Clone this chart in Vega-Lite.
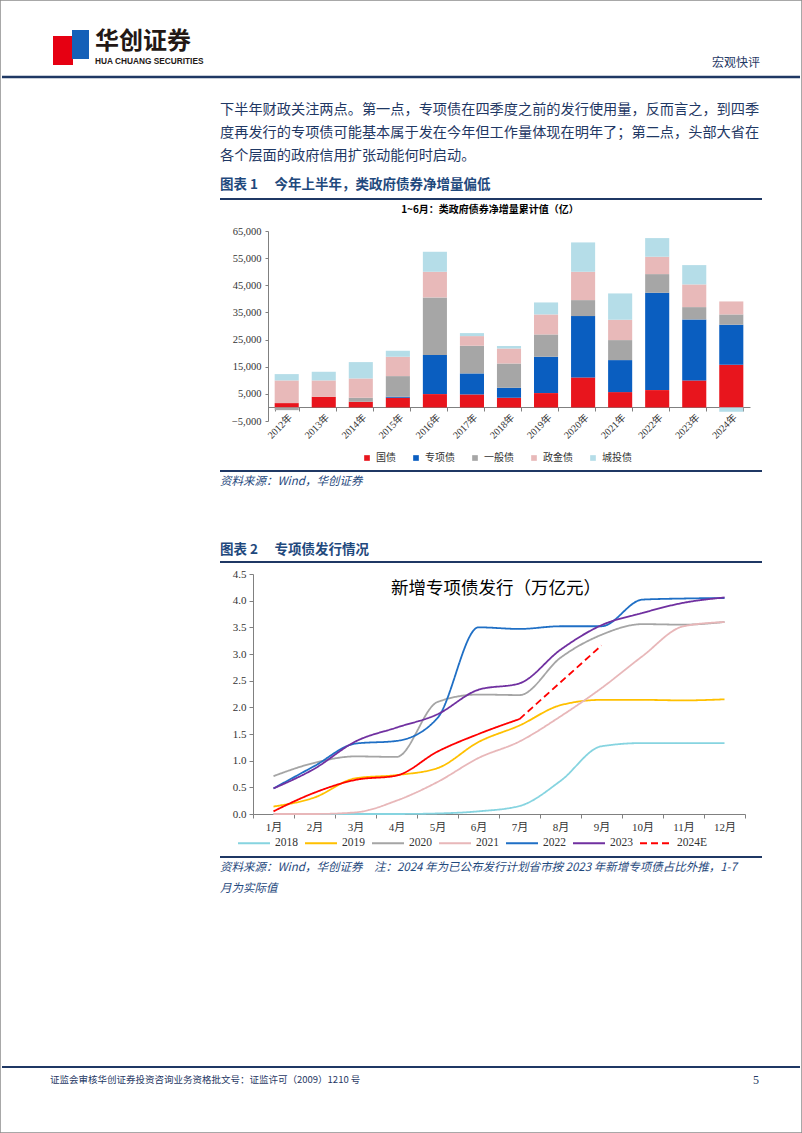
{
  "$schema": "https://vega.github.io/schema/vega-lite/v6.json",
  "width": 802,
  "height": 1133,
  "autosize": {"type": "none"},
  "padding": 0,
  "background": "white",
  "config": {"view": {"stroke": "#8c8c8c", "strokeWidth": 1.5}, "font": "Noto Sans CJK SC"},
  "resolve": {
    "scale": {"x": "independent", "y": "independent", "color": "independent", "strokeDash": "independent", "strokeWidth": "independent"},
    "axis": {"x": "independent", "y": "independent"},
    "legend": {"color": "independent", "strokeDash": "independent", "strokeWidth": "independent"}
  },
  "layer": [
    {
      "data": {"values": [
        {"year": "2012年", "type": "国债", "k": 1, "v": 1600},
        {"year": "2012年", "type": "一般债", "k": 3, "v": -1000},
        {"year": "2012年", "type": "政金债", "k": 4, "v": 8350},
        {"year": "2012年", "type": "城投债", "k": 5, "v": 2330},
        {"year": "2013年", "type": "国债", "k": 1, "v": 3930},
        {"year": "2013年", "type": "政金债", "k": 4, "v": 6020},
        {"year": "2013年", "type": "城投债", "k": 5, "v": 3190},
        {"year": "2014年", "type": "国债", "k": 1, "v": 2090},
        {"year": "2014年", "type": "一般债", "k": 3, "v": 1470},
        {"year": "2014年", "type": "政金债", "k": 4, "v": 7120},
        {"year": "2014年", "type": "城投债", "k": 5, "v": 6020},
        {"year": "2015年", "type": "国债", "k": 1, "v": 3560},
        {"year": "2015年", "type": "专项债", "k": 2, "v": 370},
        {"year": "2015年", "type": "一般债", "k": 3, "v": 7610},
        {"year": "2015年", "type": "政金债", "k": 4, "v": 7130},
        {"year": "2015年", "type": "城投债", "k": 5, "v": 2210},
        {"year": "2016年", "type": "国债", "k": 1, "v": 4910},
        {"year": "2016年", "type": "专项债", "k": 2, "v": 14370},
        {"year": "2016年", "type": "一般债", "k": 3, "v": 21250},
        {"year": "2016年", "type": "政金债", "k": 4, "v": 9450},
        {"year": "2016年", "type": "城投债", "k": 5, "v": 7370},
        {"year": "2017年", "type": "国债", "k": 1, "v": 4790},
        {"year": "2017年", "type": "专项债", "k": 2, "v": 7740},
        {"year": "2017年", "type": "一般债", "k": 3, "v": 10190},
        {"year": "2017年", "type": "政金债", "k": 4, "v": 3560},
        {"year": "2017年", "type": "城投债", "k": 5, "v": 1110},
        {"year": "2018年", "type": "国债", "k": 1, "v": 3560},
        {"year": "2018年", "type": "专项债", "k": 2, "v": 3690},
        {"year": "2018年", "type": "一般债", "k": 3, "v": 8960},
        {"year": "2018年", "type": "政金债", "k": 4, "v": 5530},
        {"year": "2018年", "type": "城投债", "k": 5, "v": 860},
        {"year": "2019年", "type": "国债", "k": 1, "v": 5280},
        {"year": "2019年", "type": "专项债", "k": 2, "v": 13390},
        {"year": "2019年", "type": "一般债", "k": 3, "v": 8220},
        {"year": "2019年", "type": "政金债", "k": 4, "v": 7370},
        {"year": "2019年", "type": "城投债", "k": 5, "v": 4420},
        {"year": "2020年", "type": "国债", "k": 1, "v": 11050},
        {"year": "2020年", "type": "专项债", "k": 2, "v": 22600},
        {"year": "2020年", "type": "一般债", "k": 3, "v": 5890},
        {"year": "2020年", "type": "政金债", "k": 4, "v": 10440},
        {"year": "2020年", "type": "城投债", "k": 5, "v": 10810},
        {"year": "2021年", "type": "国债", "k": 1, "v": 5650},
        {"year": "2021年", "type": "专项债", "k": 2, "v": 11790},
        {"year": "2021年", "type": "一般债", "k": 3, "v": 7370},
        {"year": "2021年", "type": "政金债", "k": 4, "v": 7490},
        {"year": "2021年", "type": "城投债", "k": 5, "v": 9700},
        {"year": "2022年", "type": "国债", "k": 1, "v": 6390},
        {"year": "2022年", "type": "专项债", "k": 2, "v": 35850},
        {"year": "2022年", "type": "一般债", "k": 3, "v": 6880},
        {"year": "2022年", "type": "政金债", "k": 4, "v": 6390},
        {"year": "2022年", "type": "城投债", "k": 5, "v": 6880},
        {"year": "2023年", "type": "国债", "k": 1, "v": 9950},
        {"year": "2023年", "type": "专项债", "k": 2, "v": 22470},
        {"year": "2023年", "type": "一般债", "k": 3, "v": 4540},
        {"year": "2023年", "type": "政金债", "k": 4, "v": 8360},
        {"year": "2023年", "type": "城投债", "k": 5, "v": 7120},
        {"year": "2024年", "type": "国债", "k": 1, "v": 15720},
        {"year": "2024年", "type": "专项债", "k": 2, "v": 14740},
        {"year": "2024年", "type": "一般债", "k": 3, "v": 3800},
        {"year": "2024年", "type": "政金债", "k": 4, "v": 4790},
        {"year": "2024年", "type": "城投债", "k": 5, "v": -1600}
      ]},
      "mark": {"type": "bar"},
      "encoding": {
        "x": {
          "field": "year", "type": "nominal",
          "scale": {"domain": ["2012年","2013年","2014年","2015年","2016年","2017年","2018年","2019年","2020年","2021年","2022年","2023年","2024年"], "range": [268, 750], "paddingInner": 0.35, "paddingOuter": 0.18},
          "axis": {"title": null, "orient": "bottom", "offset": -726, "labelAngle": -45, "labelFont": "Liberation Serif, Noto Sans CJK SC", "labelFontSize": 10, "labelColor": "#333333", "tickBand": "extent", "tickSize": 4, "domainColor": "#808080", "tickColor": "#808080", "labelPadding": 1, "grid": false}
        },
        "y": {
          "field": "v", "type": "quantitative", "stack": "zero",
          "scale": {"domain": [-5000, 65000], "range": [421, 231], "nice": false, "zero": false},
          "axis": {"title": null, "orient": "left", "offset": -268, "values": [-5000, 5000, 15000, 25000, 35000, 45000, 55000, 65000], "format": ",.0f", "labelFont": "Liberation Serif", "labelFontSize": 10.5, "labelColor": "#333333", "tickSize": 3, "labelPadding": 4, "domainColor": "#808080", "tickColor": "#808080", "grid": false}
        },
        "color": {
          "field": "type", "type": "nominal",
          "scale": {"domain": ["国债", "专项债", "一般债", "政金债", "城投债"], "range": ["#E8151D", "#0A5EC0", "#A6A6A6", "#E8B9B9", "#B5DDE8"]},
          "legend": {"title": null, "orient": "none", "legendX": 362, "legendY": 453, "direction": "horizontal", "symbolType": "square", "symbolSize": 32, "labelFont": "Noto Sans CJK SC", "labelFontSize": 10, "labelColor": "#333333", "columnPadding": 15, "labelOffset": 4}
        },
        "order": {"field": "k", "type": "quantitative", "sort": "ascending"}
      }
    },
    {
      "data": {"values": [
        {"s": "2018", "m": "1月", "v": 0}, {"s": "2018", "m": "2月", "v": 0}, {"s": "2018", "m": "3月", "v": 0}, {"s": "2018", "m": "4月", "v": 0},
        {"s": "2018", "m": "5月", "v": 0.01}, {"s": "2018", "m": "6月", "v": 0.05}, {"s": "2018", "m": "7月", "v": 0.15}, {"s": "2018", "m": "8月", "v": 0.62},
        {"s": "2018", "m": "9月", "v": 1.27}, {"s": "2018", "m": "10月", "v": 1.33}, {"s": "2018", "m": "11月", "v": 1.33}, {"s": "2018", "m": "12月", "v": 1.33},
        {"s": "2019", "m": "1月", "v": 0.14}, {"s": "2019", "m": "2月", "v": 0.31}, {"s": "2019", "m": "3月", "v": 0.67}, {"s": "2019", "m": "4月", "v": 0.73},
        {"s": "2019", "m": "5月", "v": 0.86}, {"s": "2019", "m": "6月", "v": 1.35}, {"s": "2019", "m": "7月", "v": 1.66}, {"s": "2019", "m": "8月", "v": 2.04},
        {"s": "2019", "m": "9月", "v": 2.14}, {"s": "2019", "m": "10月", "v": 2.14}, {"s": "2019", "m": "11月", "v": 2.13}, {"s": "2019", "m": "12月", "v": 2.15},
        {"s": "2020", "m": "1月", "v": 0.71}, {"s": "2020", "m": "2月", "v": 0.96}, {"s": "2020", "m": "3月", "v": 1.08}, {"s": "2020", "m": "4月", "v": 1.07},
        {"s": "2020", "m": "5月", "v": 2.1}, {"s": "2020", "m": "6月", "v": 2.24}, {"s": "2020", "m": "7月", "v": 2.23}, {"s": "2020", "m": "8月", "v": 2.93},
        {"s": "2020", "m": "9月", "v": 3.36}, {"s": "2020", "m": "10月", "v": 3.56}, {"s": "2020", "m": "11月", "v": 3.55}, {"s": "2020", "m": "12月", "v": 3.6},
        {"s": "2021", "m": "1月", "v": 0}, {"s": "2021", "m": "2月", "v": 0}, {"s": "2021", "m": "3月", "v": 0.03}, {"s": "2021", "m": "4月", "v": 0.25},
        {"s": "2021", "m": "5月", "v": 0.6}, {"s": "2021", "m": "6月", "v": 1.05}, {"s": "2021", "m": "7月", "v": 1.36}, {"s": "2021", "m": "8月", "v": 1.83},
        {"s": "2021", "m": "9月", "v": 2.36}, {"s": "2021", "m": "10月", "v": 2.96}, {"s": "2021", "m": "11月", "v": 3.52}, {"s": "2021", "m": "12月", "v": 3.6},
        {"s": "2022", "m": "1月", "v": 0.48}, {"s": "2022", "m": "2月", "v": 0.9}, {"s": "2022", "m": "3月", "v": 1.32}, {"s": "2022", "m": "4月", "v": 1.37},
        {"s": "2022", "m": "5月", "v": 1.8}, {"s": "2022", "m": "6月", "v": 3.5}, {"s": "2022", "m": "7月", "v": 3.47}, {"s": "2022", "m": "8月", "v": 3.52},
        {"s": "2022", "m": "9月", "v": 3.52}, {"s": "2022", "m": "10月", "v": 4.02}, {"s": "2022", "m": "11月", "v": 4.04}, {"s": "2022", "m": "12月", "v": 4.05},
        {"s": "2023", "m": "1月", "v": 0.48}, {"s": "2023", "m": "2月", "v": 0.85}, {"s": "2023", "m": "3月", "v": 1.36}, {"s": "2023", "m": "4月", "v": 1.62},
        {"s": "2023", "m": "5月", "v": 1.87}, {"s": "2023", "m": "6月", "v": 2.33}, {"s": "2023", "m": "7月", "v": 2.45}, {"s": "2023", "m": "8月", "v": 3.08},
        {"s": "2023", "m": "9月", "v": 3.54}, {"s": "2023", "m": "10月", "v": 3.77}, {"s": "2023", "m": "11月", "v": 3.96}, {"s": "2023", "m": "12月", "v": 4.06},
        {"s": "2024", "m": "1月", "v": 0.05}, {"s": "2024", "m": "2月", "v": 0.4}, {"s": "2024", "m": "3月", "v": 0.64}, {"s": "2024", "m": "4月", "v": 0.72},
        {"s": "2024", "m": "5月", "v": 1.17}, {"s": "2024", "m": "6月", "v": 1.5}, {"s": "2024", "m": "7月", "v": 1.78},
        {"s": "2024E", "m": "7月", "v": 1.78}, {"s": "2024E", "m": "8月", "v": 2.47}, {"s": "2024E", "m": "9月", "v": 3.16}
      ]},
      "mark": {"type": "line", "interpolate": "monotone"},
      "encoding": {
        "x": {
          "field": "m", "type": "ordinal",
          "scale": {"type": "band", "domain": ["1月","2月","3月","4月","5月","6月","7月","8月","9月","10月","11月","12月"], "range": [253, 745], "paddingInner": 0, "paddingOuter": 0},
          "axis": {"title": null, "orient": "bottom", "offset": -319, "labelAngle": 0, "labelFont": "Liberation Serif, Noto Sans CJK SC", "labelFontSize": 11, "labelColor": "#333333", "tickBand": "extent", "tickSize": 4, "domainColor": "#808080", "tickColor": "#808080", "labelPadding": 3, "grid": false}
        },
        "y": {
          "field": "v", "type": "quantitative",
          "scale": {"domain": [0, 4.5], "range": [814, 574], "nice": false, "zero": false},
          "axis": {"title": null, "orient": "left", "offset": -253, "values": [0, 0.5, 1, 1.5, 2, 2.5, 3, 3.5, 4, 4.5], "format": ".1f", "labelFont": "Liberation Serif", "labelFontSize": 11, "labelColor": "#333333", "tickSize": 4, "labelPadding": 3, "domainColor": "#808080", "tickColor": "#808080", "grid": false}
        },
        "color": {
          "field": "s", "type": "nominal",
          "scale": {"domain": ["2018","2019","2020","2021","2022","2023","2024","2024E"], "range": ["#86D4E0", "#FFC000", "#A5A5A5", "#E8B7B9", "#1F6FC5", "#7030A0", "#FF0000", "#FF0000"]},
          "legend": {"title": null, "orient": "none", "legendX": 237, "legendY": 826, "direction": "horizontal", "symbolType": "stroke", "symbolSize": 1024, "labelFont": "Liberation Serif", "labelFontSize": 11.5, "labelColor": "#333333", "columnPadding": 3, "labelOffset": 4, "values": ["2018","2019","2020","2021","2022","2023","2024E"]}
        },
        "strokeDash": {
          "field": "s", "type": "nominal",
          "scale": {"domain": ["2018","2019","2020","2021","2022","2023","2024","2024E"], "range": [[1,0],[1,0],[1,0],[1,0],[1,0],[1,0],[1,0],[7,4]]},
          "legend": {"title": null, "orient": "none", "legendX": 237, "legendY": 826, "direction": "horizontal", "symbolType": "stroke", "symbolSize": 1024, "labelFont": "Liberation Serif", "labelFontSize": 11.5, "labelColor": "#333333", "columnPadding": 3, "labelOffset": 4, "values": ["2018","2019","2020","2021","2022","2023","2024E"]}
        },
        "strokeWidth": {
          "field": "s", "type": "ordinal",
          "scale": {"domain": ["2018","2019","2020","2021","2022","2023","2024","2024E"], "range": [1.8,1.8,1.8,1.8,1.8,1.8,3.5,3.5]},
          "legend": {"title": null, "orient": "none", "legendX": 237, "legendY": 826, "direction": "horizontal", "symbolType": "stroke", "symbolSize": 1024, "labelFont": "Liberation Serif", "labelFontSize": 11.5, "labelColor": "#333333", "columnPadding": 3, "labelOffset": 4, "values": ["2018","2019","2020","2021","2022","2023","2024E"]}
        },
        "order": {"value": null}
      }
    },
    {"data": {"values": [{}]}, "mark": {"type": "rect", "color": "#E60012"}, "encoding": {"x": {"value": 53}, "x2": {"value": 73}, "y": {"value": 36}, "y2": {"value": 65}}},
    {"data": {"values": [{}]}, "mark": {"type": "rect", "color": "#1560B8"}, "encoding": {"x": {"value": 72}, "x2": {"value": 89}, "y": {"value": 30}, "y2": {"value": 59}}},
    {"data": {"values": [{"t": "华创证券"}]}, "mark": {"type": "text", "align": "left", "baseline": "middle", "font": "Noto Sans CJK SC", "fontSize": 24, "fontWeight": "bold", "color": "#231815"}, "encoding": {"x": {"value": 95}, "y": {"value": 42}, "text": {"field": "t"}}},
    {"data": {"values": [{"t": "HUA CHUANG SECURITIES"}]}, "mark": {"type": "text", "align": "left", "baseline": "middle", "font": "Liberation Sans Narrow, Liberation Sans", "fontSize": 8.3, "fontWeight": "bold", "color": "#231815"}, "encoding": {"x": {"value": 95}, "y": {"value": 61.5}, "text": {"field": "t"}}},
    {"data": {"values": [{"t": "宏观快评"}]}, "mark": {"type": "text", "align": "right", "baseline": "middle", "font": "Noto Sans CJK SC", "fontSize": 12, "color": "#1F3864"}, "encoding": {"x": {"value": 760}, "y": {"value": 63}, "text": {"field": "t"}}},
    {"data": {"values": [{}]}, "mark": {"type": "rule", "color": "#1F3864", "strokeWidth": 2.5}, "encoding": {"x": {"value": 2}, "x2": {"value": 800}, "y": {"value": 77}}},
    {"data": {"values": [{"t": "下半年财政关注两点。第一点，专项债在四季度之前的发行使用量，反而言之，到四季\n度再发行的专项债可能基本属于发在今年但工作量体现在明年了；第二点，头部大省在\n各个层面的政府信用扩张动能何时启动。"}]}, "mark": {"type": "text", "align": "left", "baseline": "middle", "lineBreak": "\n", "lineHeight": 23, "font": "Noto Sans CJK SC", "fontSize": 14.2, "color": "#1F3864"}, "encoding": {"x": {"value": 220}, "y": {"value": 110}, "text": {"field": "t"}}},
    {"data": {"values": [{"t": "图表 1  　今年上半年，类政府债券净增量偏低"}]}, "mark": {"type": "text", "align": "left", "baseline": "middle", "font": "Noto Sans CJK SC", "fontSize": 13.5, "fontWeight": "bold", "color": "#1F497D"}, "encoding": {"x": {"value": 220}, "y": {"value": 185}, "text": {"field": "t"}}},
    {"data": {"values": [{}]}, "mark": {"type": "rule", "color": "#1F3864", "strokeWidth": 2}, "encoding": {"x": {"value": 220}, "x2": {"value": 762}, "y": {"value": 199}}},
    {"data": {"values": [{"t": "1~6月：类政府债券净增量累计值（亿）"}]}, "mark": {"type": "text", "align": "center", "baseline": "middle", "font": "Noto Sans CJK SC", "fontSize": 10, "fontWeight": "bold", "color": "#000000"}, "encoding": {"x": {"value": 490}, "y": {"value": 210}, "text": {"field": "t"}}},
    {"data": {"values": [{}]}, "mark": {"type": "rule", "color": "#1F3864", "strokeWidth": 2}, "encoding": {"x": {"value": 220}, "x2": {"value": 762}, "y": {"value": 471}}},
    {"data": {"values": [{"t": "资料来源：Wind，华创证券"}]}, "mark": {"type": "text", "align": "left", "baseline": "middle", "font": "Noto Sans CJK SC", "fontSize": 11.5, "fontStyle": "italic", "color": "#1F497D"}, "encoding": {"x": {"value": 220}, "y": {"value": 482}, "text": {"field": "t"}}},
    {"data": {"values": [{"t": "图表 2  　专项债发行情况"}]}, "mark": {"type": "text", "align": "left", "baseline": "middle", "font": "Noto Sans CJK SC", "fontSize": 13.5, "fontWeight": "bold", "color": "#1F497D"}, "encoding": {"x": {"value": 220}, "y": {"value": 550}, "text": {"field": "t"}}},
    {"data": {"values": [{}]}, "mark": {"type": "rule", "color": "#1F3864", "strokeWidth": 2}, "encoding": {"x": {"value": 220}, "x2": {"value": 762}, "y": {"value": 562}}},
    {"data": {"values": [{"t": "新增专项债发行（万亿元）"}]}, "mark": {"type": "text", "align": "center", "baseline": "middle", "font": "Noto Sans CJK SC", "fontSize": 17.5, "color": "#000000"}, "encoding": {"x": {"value": 496}, "y": {"value": 589}, "text": {"field": "t"}}},
    {"data": {"values": [{}]}, "mark": {"type": "rule", "color": "#1F3864", "strokeWidth": 2}, "encoding": {"x": {"value": 220}, "x2": {"value": 762}, "y": {"value": 857}}},
    {"data": {"values": [{"t": "资料来源：Wind，华创证券　注：2024 年为已公布发行计划省市按 2023 年新增专项债占比外推，1-7\n月为实际值"}]}, "mark": {"type": "text", "align": "left", "baseline": "middle", "lineBreak": "\n", "lineHeight": 21, "font": "Noto Sans CJK SC", "fontSize": 11.5, "fontStyle": "italic", "color": "#1F497D"}, "encoding": {"x": {"value": 220}, "y": {"value": 868}, "text": {"field": "t"}}},
    {"data": {"values": [{}]}, "mark": {"type": "rule", "color": "#1F3864", "strokeWidth": 2}, "encoding": {"x": {"value": 2}, "x2": {"value": 800}, "y": {"value": 1067}}},
    {"data": {"values": [{"t": "证监会审核华创证券投资咨询业务资格批文号：证监许可（2009）1210 号"}]}, "mark": {"type": "text", "align": "left", "baseline": "middle", "font": "Noto Sans CJK SC", "fontSize": 9.5, "color": "#1F3864"}, "encoding": {"x": {"value": 50}, "y": {"value": 1080}, "text": {"field": "t"}}},
    {"data": {"values": [{"t": "5"}]}, "mark": {"type": "text", "align": "center", "baseline": "middle", "font": "Liberation Serif", "fontSize": 12, "color": "#1F3864"}, "encoding": {"x": {"value": 756}, "y": {"value": 1080}, "text": {"field": "t"}}}
  ]
}
